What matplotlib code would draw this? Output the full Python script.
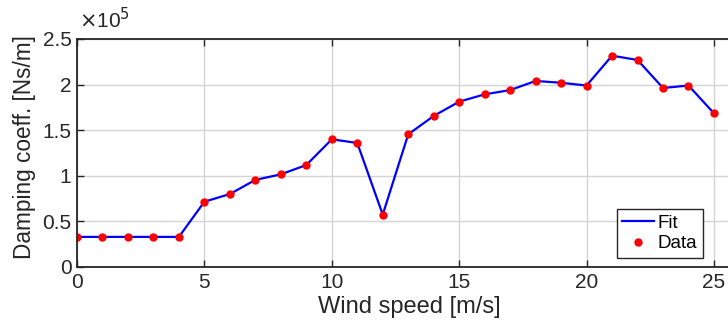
import matplotlib
matplotlib.use('Agg')
import matplotlib.pyplot as plt
from matplotlib.ticker import FuncFormatter

plt.rcParams['font.family'] = ['Liberation Sans', 'DejaVu Sans']

AX_COLOR = '#262626'
GRID_COLOR = '#d4d4d4'

# damping coefficient per wind speed bin
wind_speed = list(range(0, 26))
damping = [0.33e5, 0.33e5, 0.33e5, 0.33e5, 0.33e5, 0.716e5, 0.80e5, 0.955e5,
           1.016e5, 1.118e5, 1.40e5, 1.36e5, 0.574e5, 1.455e5, 1.656e5,
           1.813e5, 1.893e5, 1.94e5, 2.04e5, 2.02e5, 1.99e5, 2.317e5,
           2.27e5, 1.963e5, 1.99e5, 1.685e5]

yticks = [0, 0.5e5, 1e5, 1.5e5, 2e5, 2.5e5]
xticks = [0, 5, 10, 15, 20, 25]

fig = plt.figure(figsize=(7.28, 3.26), dpi=100)
ax = fig.add_axes([77/728, 59/326, 665/728, 228/326])

ax.plot(wind_speed, damping, color='b', linewidth=1.6, label='Fit')
ax.plot(wind_speed, damping, linestyle='none', marker='o', color='r',
        markersize=5, label='Data')

ax.set_xlim(0, 26.1)
ax.set_ylim(0, 2.5e5)
ax.set_xticks(xticks)
ax.set_yticks(yticks)
ax.yaxis.set_major_formatter(FuncFormatter(lambda y, pos: f'{y/1e5:g}'))

ax.grid(True, color=GRID_COLOR, linewidth=1.0)
ax.set_axisbelow(True)
ax.tick_params(direction='in', length=5, width=1, colors=AX_COLOR,
               labelsize=15, top=True, right=True, pad=4)
for s in ax.spines.values():
    s.set_color(AX_COLOR)
    s.set_linewidth(1.3)

ax.set_xlabel('Wind speed [m/s]', fontsize=17, color=AX_COLOR, labelpad=3)
ax.set_ylabel('Damping coeff. [Ns/m]', fontsize=16.3, color=AX_COLOR)
ax.yaxis.set_label_coords(-0.061, 0.524)
fig.text(79/728, 1 - 20/326, r'$\times$10$^5$', fontsize=15, color=AX_COLOR,
         va='center', ha='left')

leg = ax.legend(loc='lower right', bbox_to_anchor=(703/728, 68/326),
                bbox_transform=fig.transFigure, fontsize=13.5, fancybox=False,
                framealpha=1, edgecolor=AX_COLOR, borderpad=0.3,
                labelspacing=0.2, handlelength=1.7, handletextpad=0.2,
                borderaxespad=0)
leg.get_frame().set_linewidth(1.0)

fig.savefig('out.png', dpi=100)
